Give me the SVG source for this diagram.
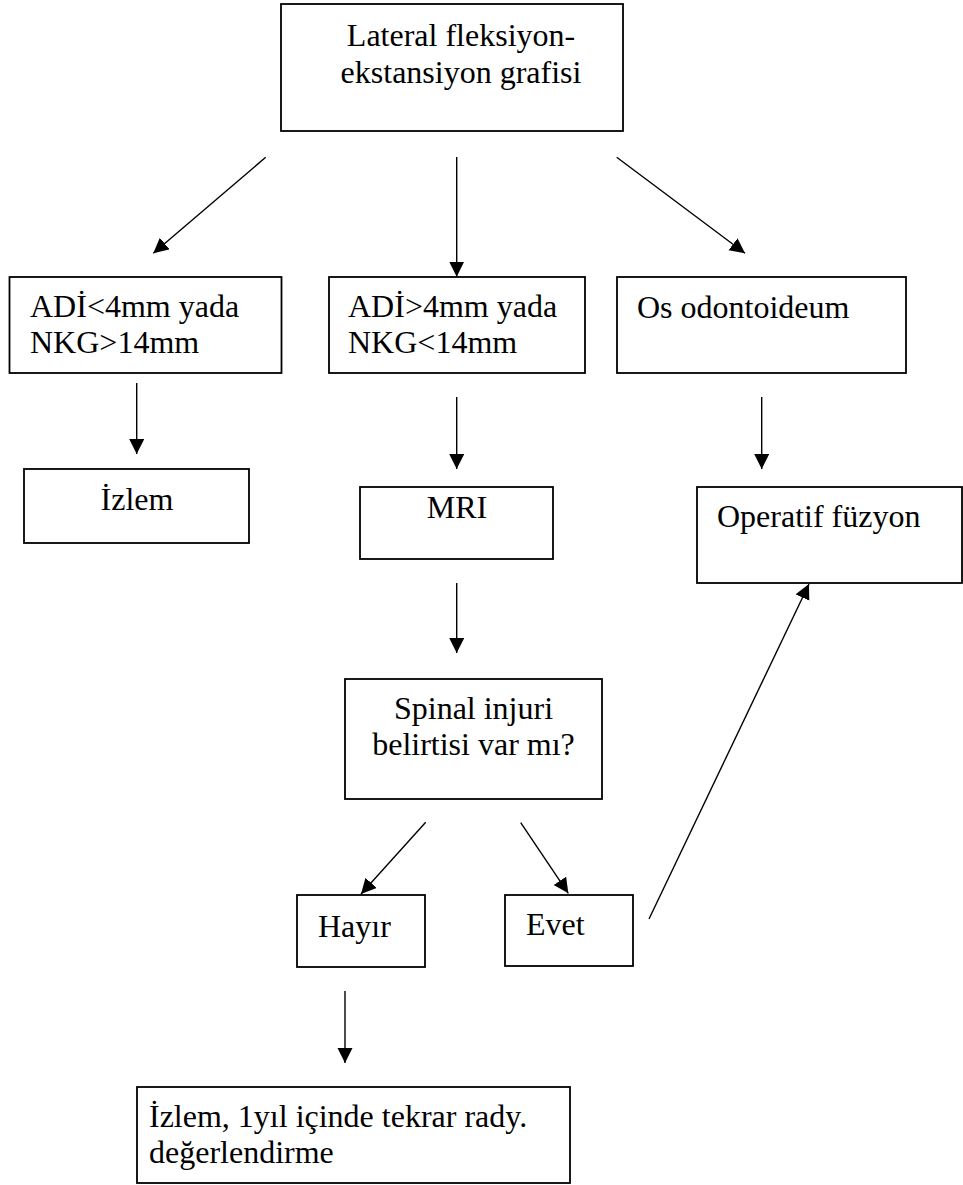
<svg xmlns="http://www.w3.org/2000/svg" width="963" height="1185" viewBox="0 0 963 1185">
<style>
  .box { fill: #ffffff; stroke: #000000; stroke-width: 1.8; }
  .t { font-family: "Liberation Serif", "Times New Roman", serif; font-size: 32px; fill: #000000; }
  .c { text-anchor: middle; }
  .conn line { stroke: #000000; stroke-width: 1.4; marker-end: url(#arrow); }
</style>
<defs>
  <marker id="arrow" markerUnits="userSpaceOnUse" markerWidth="16" markerHeight="16" refX="15" refY="7.5" orient="auto">
    <path d="M0,0 L15,7.5 L0,15 z" fill="#000000"/>
  </marker>
</defs>
<rect width="963" height="1185" fill="#ffffff"/>

<g id="n1">
  <rect class="box" x="281" y="4" width="342" height="127"/>
  <text class="t c" x="461" y="46">Lateral fleksiyon-</text>
  <text class="t c" x="461" y="83">ekstansiyon grafisi</text>
</g>
<g id="n2">
  <rect class="box" x="9.5" y="277" width="272" height="96"/>
  <text class="t" x="30" y="317">ADİ&lt;4mm yada</text>
  <text class="t" x="30" y="353">NKG&gt;14mm</text>
</g>
<g id="n3">
  <rect class="box" x="329" y="277" width="256" height="96"/>
  <text class="t" x="348" y="317">ADİ&gt;4mm yada</text>
  <text class="t" x="348" y="353">NKG&lt;14mm</text>
</g>
<g id="n4">
  <rect class="box" x="617" y="277" width="289" height="96"/>
  <text class="t" x="637" y="318">Os odontoideum</text>
</g>
<g id="n5">
  <rect class="box" x="24" y="469" width="225" height="74"/>
  <text class="t c" x="137" y="510">İzlem</text>
</g>
<g id="n6">
  <rect class="box" x="360" y="487" width="193" height="72"/>
  <text class="t c" x="457" y="518">MRI</text>
</g>
<g id="n7">
  <rect class="box" x="697" y="487" width="265" height="96"/>
  <text class="t" x="717" y="527">Operatif füzyon</text>
</g>
<g id="n8">
  <rect class="box" x="345" y="679" width="257" height="120"/>
  <text class="t c" x="473.5" y="719">Spinal injuri</text>
  <text class="t c" x="473.5" y="755">belirtisi var mı?</text>
</g>
<g id="n9">
  <rect class="box" x="297" y="895" width="128" height="72"/>
  <text class="t" x="318" y="937">Hayır</text>
</g>
<g id="n10">
  <rect class="box" x="505" y="895" width="128" height="71"/>
  <text class="t" x="526" y="935">Evet</text>
</g>
<g id="n11">
  <rect class="box" x="137" y="1087" width="433" height="96"/>
  <text class="t" x="149" y="1127">İzlem, 1yıl içinde tekrar rady.</text>
  <text class="t" x="149" y="1163">değerlendirme</text>
</g>

<g id="connectors" class="conn">
  <line x1="265.7" y1="157.3" x2="153.3" y2="253.3"/>
  <line x1="456.7" y1="157" x2="456.7" y2="276.7"/>
  <line x1="616.7" y1="157.3" x2="745" y2="253.3"/>
  <line x1="136.7" y1="383" x2="136.7" y2="454"/>
  <line x1="456.7" y1="397" x2="456.7" y2="469"/>
  <line x1="761.7" y1="397" x2="761.7" y2="469"/>
  <line x1="456.7" y1="583" x2="456.7" y2="653"/>
  <line x1="425.7" y1="822.3" x2="361" y2="894"/>
  <line x1="520.7" y1="822.7" x2="568.3" y2="893.3"/>
  <line x1="345" y1="991" x2="345" y2="1063"/>
  <line x1="649" y1="919" x2="809" y2="584"/>
</g>
</svg>
